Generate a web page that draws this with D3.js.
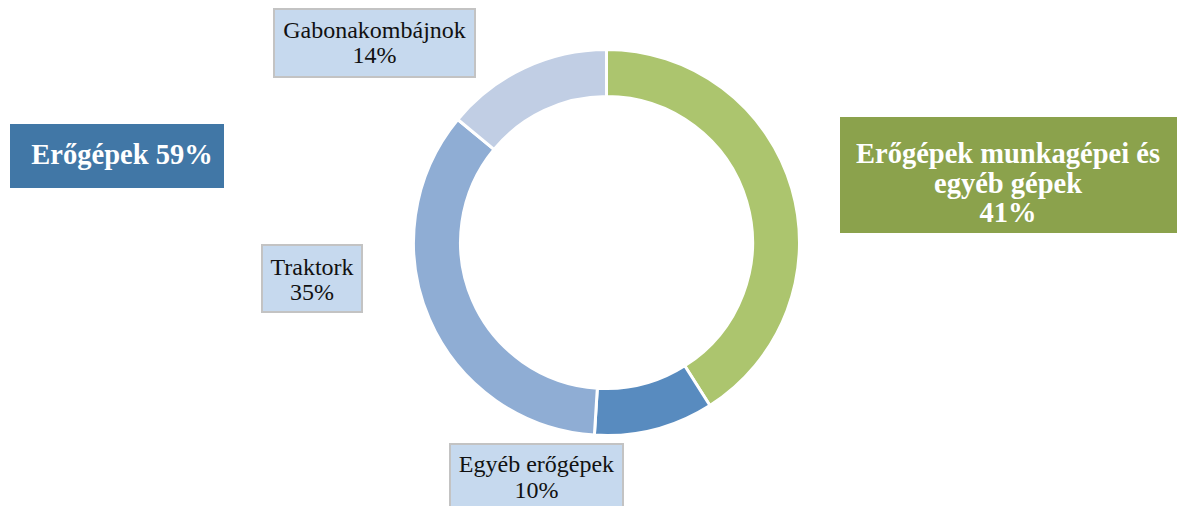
<!DOCTYPE html>
<html>
<head>
<meta charset="utf-8">
<script src="https://cdn.jsdelivr.net/npm/d3@7"></script>
<style>
body { margin: 0; background: #fff; }
text { font-family: "Liberation Serif", "Times New Roman", serif; }
</style>
</head>
<body>
<svg id="chart"></svg>
<script>
// slices, clockwise from 12 o'clock
var categories = ['Erőgépek munkagépei és egyéb gépek', 'Egyéb erőgépek', 'Traktork', 'Gabonakombájnok'];
var values = [41, 10, 35, 14];
var sliceColors = ['#acc56e', '#588bbf', '#8fadd4', '#c1cee4'];

// two group totals
var groups = ['Erőgépek', 'Erőgépek munkagépei és egyéb gépek'];
var groupValues = [59, 41];

var dims = {
	width: 1179,
	height: 506,
	cx: 606.5,
	cy: 242.5,
	outer: 193,
	inner: 146
};

var svg = d3.select('#chart').attr('width', dims.width).attr('height', dims.height);

var pie = d3.pie().sort(null).value(d => d);
var arc = d3.arc().innerRadius(dims.inner).outerRadius(dims.outer);

var ring = svg.append('g')
	.attr('transform', 'translate(' + dims.cx + ' ' + dims.cy + ')');

ring.selectAll('path')
	.data(pie(values))
	.enter()
	.append('path')
		.attr('d', arc)
		.attr('fill', (d, i) => sliceColors[i])
		.attr('stroke', '#fff')
		.attr('stroke-width', 3);

// small label boxes for the blue slices (index into categories)
var boxes = [
	{ i: 3, x: 274, y: 9, w: 201, h: 68, lines: [38, 63] },
	{ i: 2, x: 262, y: 245, w: 100, h: 67, lines: [275, 300] },
	{ i: 1, x: 450, y: 444, w: 173, h: 66, lines: [472, 498] }
];

boxes.forEach(function(b) {
	var g = svg.append('g');
	g.append('rect')
		.attr('x', b.x).attr('y', b.y)
		.attr('width', b.w).attr('height', b.h)
		.attr('fill', '#c6d9ee')
		.attr('stroke', '#c3c3c3')
		.attr('stroke-width', 2);
	var txt = [categories[b.i], values[b.i] + '%'];
	txt.forEach(function(t, k) {
		g.append('text')
			.attr('x', b.x + b.w / 2)
			.attr('y', b.lines[k])
			.attr('text-anchor', 'middle')
			.attr('font-size', '24px')
			.attr('fill', '#111')
			.text(t);
	});
});

// group boxes
var left = svg.append('g');
left.append('rect')
	.attr('x', 10).attr('y', 124).attr('width', 214).attr('height', 64)
	.attr('fill', '#4177a6');
left.append('text')
	.attr('x', 122).attr('y', 164)
	.attr('text-anchor', 'middle')
	.attr('font-size', '28.5px')
	.attr('font-weight', 'bold')
	.attr('fill', '#fff')
	.text(groups[0] + ' ' + groupValues[0] + '%');

var right = svg.append('g');
right.append('rect')
	.attr('x', 840).attr('y', 117).attr('width', 337).attr('height', 116)
	.attr('fill', '#8ba24c');
var rightLines = ['Erőgépek munkagépei és', 'egyéb gépek', groupValues[1] + '%'];
rightLines.forEach(function(t, k) {
	right.append('text')
		.attr('x', 1008).attr('y', 163 + k * 29.5)
		.attr('text-anchor', 'middle')
		.attr('font-size', '28.5px')
		.attr('font-weight', 'bold')
		.attr('fill', '#fff')
		.text(t);
});
</script>
</body>
</html>
